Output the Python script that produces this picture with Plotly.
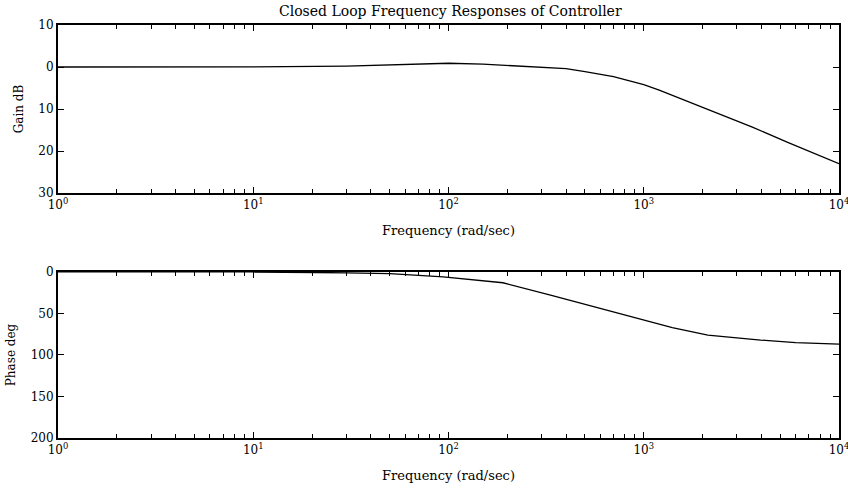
import plotly.graph_objects as go
from plotly.subplots import make_subplots

# Gain response (rad/sec, dB)
gain_freq = [1, 3, 10, 30, 60, 100, 150, 200, 300, 400, 500, 700, 800, 1000, 1200, 1800, 2700, 3600, 5500, 7500, 10000]
gain_db = [0, 0, 0.05, 0.2, 0.6, 0.9, 0.7, 0.4, 0, -0.4, -1.1, -2.3, -3.0, -4.2, -5.5, -8.8, -12, -14.3, -18, -20.5, -23]

# Phase response (rad/sec, deg)
phase_freq = [1, 10, 30, 50, 94, 190, 333, 580, 735, 1000, 1400, 2130, 3970, 6000, 10000]
phase_deg = [0, 0, -1, -2, -6, -13, -28, -43, -50, -58, -67, -76, -82, -85, -87]

x_tickvals = [1, 10, 100, 1000, 10000]
x_ticktext = ["10<sup>0</sup>", "10<sup>1</sup>", "10<sup>2</sup>", "10<sup>3</sup>", "10<sup>4</sup>"]
x_minor = [m * d for d in (1, 10, 100, 1000) for m in range(2, 10)]
gain_tickvals = [10, 0, -10, -20, -30]
gain_ticktext = ["10", "0", "10", "20", "30"]
phase_tickvals = [0, -50, -100, -150, -200]
phase_ticktext = ["0", "50", "100", "150", "200"]

FONT = "DejaVu Serif"

fig = make_subplots(rows=2, cols=1, vertical_spacing=0.19)
fig.add_trace(go.Scatter(x=gain_freq, y=gain_db, mode="lines", line=dict(color="black", width=1.3), showlegend=False), row=1, col=1)
fig.add_trace(go.Scatter(x=phase_freq, y=phase_deg, mode="lines", line=dict(color="black", width=1.3), showlegend=False), row=2, col=1)

xaxis_common = dict(
    type="log", range=[0, 4], tickmode="array", tickvals=x_tickvals, ticktext=x_ticktext,
    ticks="inside", ticklen=6, tickcolor="black", showline=True, linecolor="black", linewidth=2,
    mirror="ticks", showgrid=False, zeroline=False, automargin=False, ticklabeloverflow="allow",
    minor=dict(tickmode="array", tickvals=x_minor, ticks="inside", ticklen=4, tickcolor="black", showgrid=False),
    tickfont=dict(family=FONT, size=12, color="black"),
    title=dict(text="Frequency (rad/sec)", font=dict(family=FONT, size=13, color="black"), standoff=14),
)
fig.update_xaxes(**xaxis_common, row=1, col=1)
fig.update_xaxes(**xaxis_common, row=2, col=1)

yaxis_common = dict(
    ticks="inside", ticklen=6, tickcolor="black", showline=True, linecolor="black", linewidth=2,
    mirror="ticks", showgrid=False, zeroline=False, automargin=False, ticklabeloverflow="allow",
    tickfont=dict(family=FONT, size=12, color="black"),
)
fig.update_yaxes(**yaxis_common, range=[-30, 10], tickvals=gain_tickvals, ticktext=gain_ticktext,
                 title=dict(text="Gain dB", font=dict(family=FONT, size=12, color="black"), standoff=12), row=1, col=1)
fig.update_yaxes(**yaxis_common, range=[-200, 0], tickvals=phase_tickvals, ticktext=phase_ticktext,
                 title=dict(text="Phase deg", font=dict(family=FONT, size=12, color="black"), standoff=12), row=2, col=1)

fig.update_layout(
    width=848, height=488,
    margin=dict(l=58, r=9, t=25, b=50),
    paper_bgcolor="white", plot_bgcolor="white",
    title=dict(text="Closed Loop Frequency Responses of Controller", x=0.531, xanchor="center", y=0.988, yanchor="top",
               font=dict(family=FONT, size=14, color="black")),
)
fig.update_layout(xaxis=dict(domain=[0, 1]), yaxis=dict(domain=[0.593, 1.0]), yaxis2=dict(domain=[0.0, 0.402]))

fig.write_html("out.html")
